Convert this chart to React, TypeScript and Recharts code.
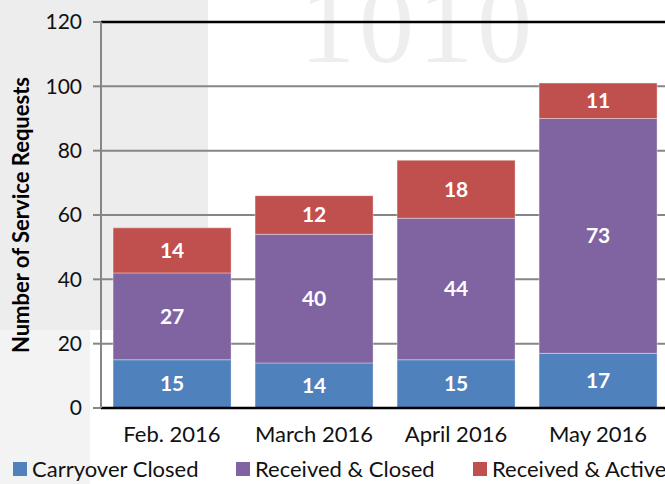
import { BarChart, Bar, XAxis, YAxis, CartesianGrid, LabelList, ReferenceLine } from "recharts";

const months = ["Feb. 2016", "March 2016", "April 2016", "May 2016"];
const carryoverClosed = [15, 14, 15, 17];
const receivedClosed = [27, 40, 44, 73];
const receivedActive = [14, 12, 18, 11];
const yTicks = [0, 20, 40, 60, 80, 100, 120];

const series = [
  { key: "carryover", name: "Carryover Closed", color: "#4F81BD" },
  { key: "closed", name: "Received & Closed", color: "#8064A2" },
  { key: "active", name: "Received & Active", color: "#C0504D" },
];

// legend item left edges
const legendX = [13, 236, 473];

const data = months.map((m, i) => ({
  month: m,
  carryover: carryoverClosed[i],
  closed: receivedClosed[i],
  active: receivedActive[i],
}));

const FONT = "Lato, 'Open Sans', sans-serif";

export default function App() {
  return (
    <div
      style={{
        position: "absolute",
        left: 0,
        top: 0,
        width: 665,
        height: 484,
        overflow: "hidden",
        background: "#fff",
        fontFamily: FONT,
      }}
    >
      {/* faint watermark behind the chart */}
      <div style={{ position: "absolute", left: 0, top: 0, width: 208, height: 330, background: "#ededed" }} />
      <div style={{ position: "absolute", left: 0, top: 330, width: 90, height: 154, background: "#f3f3f3" }} />
      <div
        style={{
          position: "absolute",
          left: 300,
          top: -38,
          fontFamily: "'Liberation Serif', serif",
          fontSize: 110,
          color: "#eeeeee",
          letterSpacing: 4,
        }}
      >
        1010
      </div>

      <div style={{ position: "absolute", left: 0, top: 0 }}>
        <BarChart
          width={680}
          height={484}
          data={data}
          margin={{ top: 22, right: 11, left: 0, bottom: 0 }}
          barCategoryGap="8.5%"
        >
          <CartesianGrid vertical={false} stroke="#868686" strokeWidth={2} />
          <XAxis
            dataKey="month"
            height={76}
            tickLine={false}
            axisLine={false}
            tickMargin={12}
            tick={{ fill: "#111", fontSize: 22, fontFamily: FONT }}
          />
          <YAxis
            width={101}
            domain={[0, 120]}
            ticks={yTicks}
            interval={0}
            stroke="#868686"
            axisLine={{ stroke: "#868686", strokeWidth: 2 }}
            tickLine={{ stroke: "#868686", strokeWidth: 2 }}
            tickSize={8}
            tickMargin={11}
            tick={{ fill: "#111", fontSize: 21, fontFamily: FONT }}
            label={{
              value: "Number of Service Requests",
              angle: -90,
              position: "insideLeft",
              offset: 21,
              style: { textAnchor: "middle", fill: "#000", fontWeight: 700, fontSize: 22, fontFamily: FONT },
            }}
          />
          {series.map((s) => (
            <Bar
              key={s.key}
              dataKey={s.key}
              name={s.name}
              stackId="a"
              fill={s.color}
              stroke="#ffffff"
              strokeOpacity={0.35}
              strokeWidth={1}
              isAnimationActive={false}
            >
              <LabelList
                dataKey={s.key}
                position="center"
                style={{ fill: "#fff", fontWeight: 700, fontSize: 21, fontFamily: FONT }}
              />
            </Bar>
          ))}
          <ReferenceLine y={120} stroke="#000" strokeWidth={2.5} />
          <ReferenceLine y={0} stroke="#000" strokeWidth={2.5} />
        </BarChart>
      </div>

      {/* legend along the bottom, running off the right edge like the original */}
      {series.map((s, i) => (
        <div
          key={s.key}
          style={{
            position: "absolute",
            left: legendX[i],
            top: 456,
            display: "flex",
            alignItems: "center",
            whiteSpace: "nowrap",
            fontSize: 22,
            lineHeight: "26px",
            color: "#111",
            fontFamily: FONT,
          }}
        >
          <span style={{ display: "inline-block", width: 14, height: 14, background: s.color, marginRight: 5 }} />
          <span>{s.name}</span>
        </div>
      ))}
    </div>
  );
}
